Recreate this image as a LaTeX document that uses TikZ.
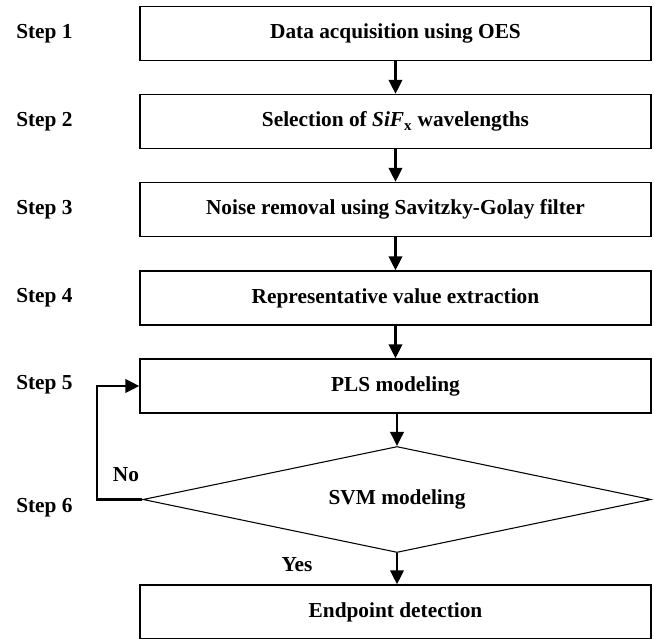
\documentclass[tikz,border=0pt]{standalone}
\usepackage{fontspec}
\setmainfont{Liberation Serif}
\usepackage{tikz}
\usetikzlibrary{arrows.meta,shapes.geometric}

\tikzset{
  stepbox/.style={draw,line width=1pt,minimum width=383.25pt,minimum height=40.5pt,inner sep=0.75pt,font=\fontsize{16}{19}\selectfont\bfseries},
  decision/.style={draw,diamond,aspect=4.79,line width=0.8pt,minimum width=381pt,minimum height=79.5pt,inner sep=0pt,font=\fontsize{16}{19}\selectfont\bfseries},
  steplabel/.style={anchor=west,inner sep=0.75pt,font=\fontsize{16}{19}\selectfont\bfseries},
  flow/.style={line width=2pt,-{Triangle[length=10.5pt,width=10pt]}}
}

\begin{document}
\begin{tikzpicture}[x=0.75pt,y=0.75pt,yscale=-1,xscale=1]
\useasboundingbox (0,0) rectangle (654,639);

%Shape: Rectangle [id:acq]
\node [stepbox] (acq) at (395.5,33.5) {Data acquisition using OES};
%Shape: Rectangle [id:sel]
\node [stepbox] (sel) at (395.5,121.5) {Selection of \textit{SiF}\textsubscript{x} wavelengths};
%Shape: Rectangle [id:noise]
\node [stepbox] (noise) at (395.5,209.5) {Noise removal using Savitzky-Golay filter};
%Shape: Rectangle [id:rep]
\node [stepbox] (rep) at (395.5,298) {Representative value extraction};
%Shape: Rectangle [id:pls]
\node [stepbox] (pls) at (395.5,386) {PLS modeling};
%Shape: Diamond [id:svm]
\node [decision] (svm) at (397,499.5) {SVM modeling};
%Shape: Rectangle [id:endp]
\node [stepbox] (endp) at (395.5,612) {Endpoint detection};

%Straight Lines
\draw [flow] (acq) -- (sel);
\draw [flow] (sel) -- (noise);
\draw [flow] (noise) -- (rep);
\draw [flow] (rep) -- (pls);
\draw [flow] (pls.south -| svm.north) -- (svm.north);
\draw [flow] (svm.south) -- (svm.south |- endp.north);
%Straight Lines (loop back)
\coordinate (loop) at (97,499.5);
\draw [flow] (svm.west) -- (loop) |- (pls.west);

% Text Node
\node [steplabel] (s1) at (15,33.5) {Step 1};
% Text Node
\node [steplabel] (s2) at (15,121.5) {Step 2};
% Text Node
\node [steplabel] (s3) at (15,210) {Step 3};
% Text Node
\node [steplabel] (s4) at (15,298) {Step 4};
% Text Node
\node [steplabel] (s5) at (15,385) {Step 5};
% Text Node
\node [steplabel] (s6) at (15,508) {Step 6};
% Text Node
\node [steplabel,anchor=center] (no) at (126,475) {No};
% Text Node
\node [steplabel,anchor=center] (yes) at (297,565) {Yes};
\end{tikzpicture}
\end{document}
